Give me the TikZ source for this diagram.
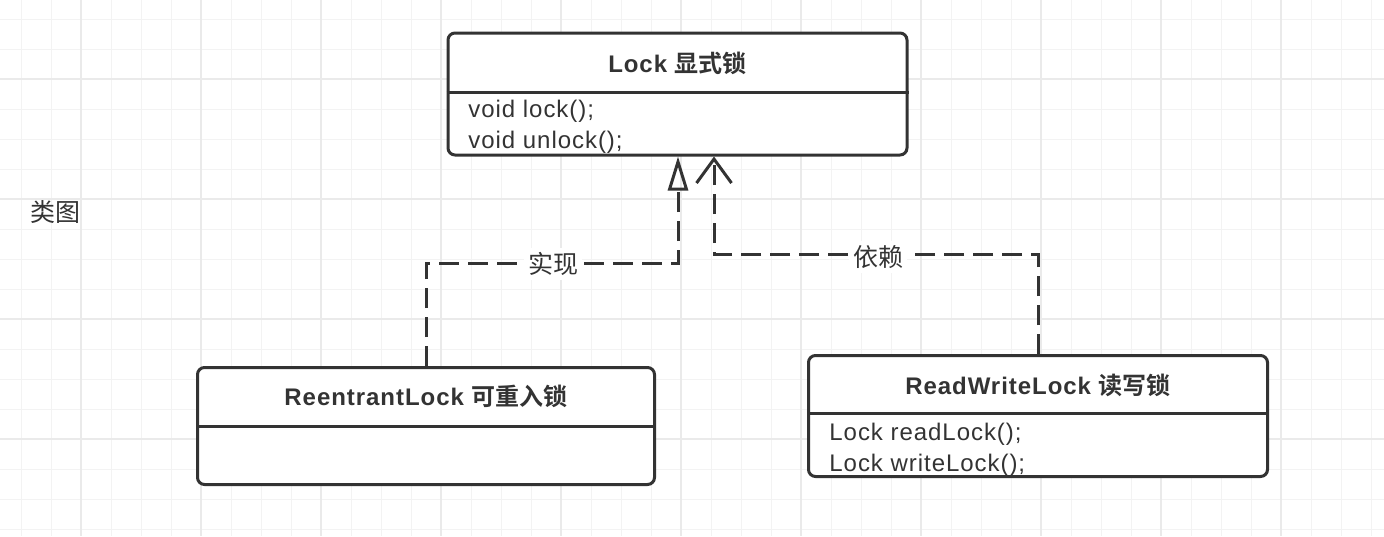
\documentclass[tikz,border=0pt]{standalone}
\usepackage{fontspec}
\setmainfont{Liberation Sans}[LetterSpace=4]
\newfontfamily\cjk{Noto Sans CJK SC}[BoldFont={Noto Sans CJK SC Bold}]
\usetikzlibrary{arrows.meta}
\definecolor{ink}{HTML}{333333}
\definecolor{gridminor}{HTML}{F3F3F3}
\definecolor{gridmajor}{HTML}{EAEAEA}
\tikzset{
  classbox/.style={draw=ink, fill=white, line width=1.5pt, rounded corners=3.5pt, inner sep=0pt},
  divider/.style={draw=ink, line width=1.5pt},
  titletext/.style={anchor=base, inner sep=0pt, text=ink, font=\fontsize{12pt}{14pt}\selectfont\bfseries},
  methodtext/.style={anchor=base west, inner sep=0pt, text=ink, font=\fontsize{12pt}{14pt}\selectfont},
  edgelabel/.style={fill=white, inner sep=2pt, text=ink, font=\fontsize{12.5pt}{14pt}\selectfont\cjk},
  dashline/.style={draw=ink, line width=1.5pt, dash pattern=on 10pt off 4.5pt},
  minorline/.style={draw=gridminor, line width=0.5pt},
  majorline/.style={draw=gridmajor, line width=0.6pt},
}
\begin{document}
\begin{tikzpicture}[x=0.5pt,y=-0.5pt]
\useasboundingbox (0,0) rectangle (1384,536);
\fill[white] (0,0) rectangle (1384,536);
% grid
\foreach \gx in {21,51,...,1371} \draw[minorline] (\gx,0) -- (\gx,536);
\foreach \gy in {19,49,...,529} \draw[minorline] (0,\gy) -- (1384,\gy);
\foreach \gx in {81,201,...,1281} \draw[majorline] (\gx,0) -- (\gx,536);
\foreach \gy in {79,199,319,439} \draw[majorline] (0,\gy) -- (1384,\gy);

% caption
\node[text=ink, inner sep=0pt, font=\fontsize{12.5pt}{14pt}\selectfont\cjk] (caption) at (55.5,212.5) {类图};

% Lock
\node[classbox, minimum width=229.5pt, minimum height=61pt] (lock) at (677.5,94) {};
\draw[divider] (lock.west |- 0,92) -- (lock.east |- 0,92);
\node[titletext] (locktitle) at (677.5,72) {Lock {\cjk 显式锁}};
\node[methodtext] (lockm1) at (468,117) {void lock();};
\node[methodtext] (lockm2) at (468,148) {void unlock();};

% ReentrantLock
\node[classbox, minimum width=228.5pt, minimum height=58.5pt] (ree) at (426,426) {};
\draw[divider] (ree.west |- 0,426) -- (ree.east |- 0,426);
\node[titletext] (reetitle) at (426,405) {ReentrantLock {\cjk 可重入锁}};

% ReadWriteLock
\node[classbox, minimum width=229.5pt, minimum height=60.5pt] (rw) at (1038,416) {};
\draw[divider] (rw.west |- 0,413) -- (rw.east |- 0,413);
\node[titletext] (rwtitle) at (1038,394) {ReadWriteLock {\cjk 读写锁}};
\node[methodtext] (rwm1) at (829,440) {Lock readLock();};
\node[methodtext] (rwm2) at (829,471) {Lock writeLock();};

% connectors
\coordinate (implbend) at (678,263);
\coordinate (depbend) at (714,254);
\draw[dashline, -{Triangle[open, length=17pt, width=10pt, line width=1.5pt]}]
  (ree.north) |- (implbend) -- (implbend |- lock.south);
\draw[dashline, -{Straight Barb[length=12pt, width=17.5pt, line width=1.5pt]}]
  (rw.north) |- (depbend) -- (depbend |- lock.south);

\node[edgelabel] (impllabel) at (553,264) {实现};
\node[edgelabel] (deplabel) at (878,257) {依赖};
\end{tikzpicture}
\end{document}
